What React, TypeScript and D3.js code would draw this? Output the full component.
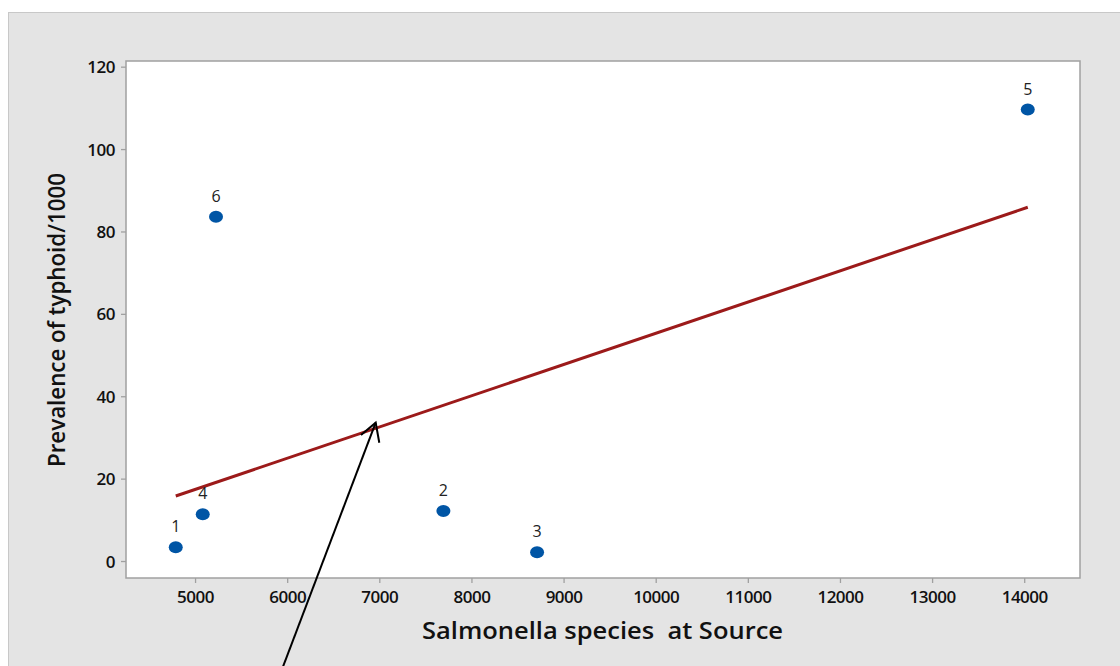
import React from "react";
import * as d3 from "d3";

// Observations: Salmonella count at source vs typhoid prevalence per 1000
const sampleIds = ["1", "2", "3", "4", "5", "6"];
const salmonellaCounts = [4785, 7690, 8707, 5078, 14033, 5222];
const typhoidPrevalence = [3.45, 12.25, 2.23, 11.45, 109.7, 83.7];

// Fitted regression line, drawn between the extreme observations
const fitX = [4785, 14033];
const fitY = [15.9, 86.0];

const xTicks = [5000, 6000, 7000, 8000, 9000, 10000, 11000, 12000, 13000, 14000];
const yTicks = [0, 20, 40, 60, 80, 100, 120];

const W = 1120;
const H = 666;
const plot = { left: 126, top: 61, right: 1080, bottom: 578 };
const fontFamily = "'Open Sans', 'Noto Sans', sans-serif";

export default function App() {
  const x = d3.scaleLinear().domain([4245, 14600]).range([plot.left, plot.right]);
  const y = d3.scaleLinear().domain([-4.0, 121.5]).range([plot.bottom, plot.top]);

  const fitPath = d3
    .line<number>()
    .x((_, i) => x(fitX[i]))
    .y((d) => y(d))(fitY);

  // annotation arrow pointing at the fitted line
  const tip = { x: 375.7, y: 422.7 };
  const tail = { x: 283.3 - (700 - 666) * 0.381, y: 700 };

  return (
    <svg
      width={W}
      height={H}
      style={{ position: "absolute", left: 0, top: 0, display: "block" }}
    >
      <rect x={0} y={0} width={W} height={H} fill="#ffffff" />
      <rect x={8.5} y={12.5} width={W} height={H} fill="#e4e4e4" stroke="#c8c8c8" strokeWidth={1} />
      <rect
        x={plot.left}
        y={plot.top}
        width={plot.right - plot.left}
        height={plot.bottom - plot.top}
        fill="#ffffff"
        stroke="#a0a0a0"
        strokeWidth={1.5}
      />

      {/* y axis ticks */}
      {yTicks.map((t) => (
        <g key={`y${t}`}>
          <line x1={plot.left - 5} x2={plot.left} y1={y(t)} y2={y(t)} stroke="#a0a0a0" strokeWidth={1.3} />
          <text
            x={plot.left - 11}
            y={y(t)}
            dy="0.36em"
            textAnchor="end"
            fontFamily={fontFamily}
            fontSize={17}
            fontWeight={600}
            fill="#111"
            letterSpacing={-0.5}
          >
            {t}
          </text>
        </g>
      ))}

      {/* x axis ticks */}
      {xTicks.map((t) => (
        <g key={`x${t}`}>
          <line x1={x(t)} x2={x(t)} y1={plot.bottom} y2={plot.bottom + 5} stroke="#a0a0a0" strokeWidth={1.3} />
          <text
            x={x(t)}
            y={plot.bottom + 25}
            textAnchor="middle"
            fontFamily={fontFamily}
            fontSize={17}
            fontWeight={600}
            fill="#111"
            letterSpacing={-0.5}
          >
            {t}
          </text>
        </g>
      ))}

      {/* axis titles */}
      <text
        x={602.5}
        y={639}
        textAnchor="middle"
        fontFamily={fontFamily}
        fontSize={24}
        fontWeight={600}
        fill="#111"
        textLength={361}
        lengthAdjust="spacingAndGlyphs"
        style={{ whiteSpace: "pre" }}
      >
        {"Salmonella species  at Source"}
      </text>
      <text
        transform={`translate(65, 320) rotate(-90)`}
        textAnchor="middle"
        fontFamily={fontFamily}
        fontSize={24}
        fontWeight={600}
        fill="#111"
        textLength={294}
        lengthAdjust="spacingAndGlyphs"
      >
        Prevalence of typhoid/1000
      </text>

      {/* regression line */}
      <path d={fitPath ?? ""} fill="none" stroke="#9c1a1a" strokeWidth={3} />

      {/* observations */}
      {sampleIds.map((id, i) => (
        <g key={id}>
          <ellipse
            cx={x(salmonellaCounts[i])}
            cy={y(typhoidPrevalence[i])}
            rx={7}
            ry={6}
            fill="#0055a5"
          />
          <text
            x={x(salmonellaCounts[i])}
            y={y(typhoidPrevalence[i]) - 15}
            textAnchor="middle"
            fontFamily={fontFamily}
            fontSize={16}
            fill="#222"
          >
            {id}
          </text>
        </g>
      ))}

      {/* arrow */}
      <line x1={tail.x} y1={tail.y} x2={tip.x} y2={tip.y} stroke="#000" strokeWidth={2} />
      <polyline
        points={`361,435 ${tip.x},${tip.y} 379.3,442.7`}
        fill="none"
        stroke="#000"
        strokeWidth={2}
      />
    </svg>
  );
}
